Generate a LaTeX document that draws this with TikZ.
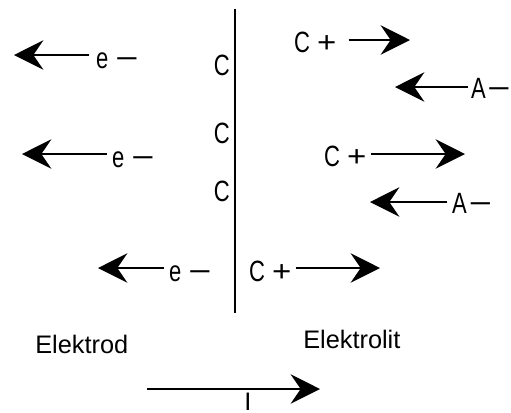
\documentclass[tikz,border=0pt]{standalone}
\usepackage{fontspec}
\usepackage{graphicx}
\setmainfont{Liberation Sans}
\usetikzlibrary{arrows.meta}
\newcommand{\wminus}{\scalebox{1.8}[1]{−}}
\newcommand{\wplus}{\scalebox{1.5}[1]{+}}
\begin{document}
\begin{tikzpicture}[x=0.75pt,y=-0.75pt,
  lbl/.style={inner sep=0pt, font=\fontsize{22}{26}\selectfont, xscale=0.75, anchor=base west},
  captiontext/.style={inner sep=0pt, font=\fontsize{19}{23}\selectfont, anchor=base west},
  arr/.style={line width=1.5pt, -{Stealth[length=22pt,width=22pt,inset=7.5pt]}},
  wall/.style={line width=1.5pt}
]
\useasboundingbox (0,0) rectangle (511,412);
% electrode surface
\coordinate (top) at (235,9);
\coordinate (bot) at (235,313);
\draw[wall] (top) -- (bot);
% charges on the surface
\node[lbl, anchor=base east] (k1) at (230,75) {C};
\node[lbl, anchor=base east] (k2) at (230,143) {C};
\node[lbl, anchor=base east] (k3) at (230,201) {C};
% electrons
\node[lbl] (e1) at (96,68) {e\kern7pt\wminus};
\coordinate (t1) at (14,55);
\draw[arr, shorten <=5pt] (e1.west |- t1) -- (t1);
\node[lbl] (e2) at (112,167) {e\kern7pt\wminus};
\coordinate (t2) at (22,154);
\draw[arr, shorten <=4pt] (e2.west |- t2) -- (t2);
\node[lbl] (e3) at (169,281) {e\kern7pt\wminus};
\coordinate (t3) at (98,268);
\draw[arr, shorten <=3.5pt] (e3.west |- t3) -- (t3);
% cations
\node[lbl] (c1) at (294,52) {C\kern7pt\wplus};
\coordinate (u1) at (410,40);
\draw[arr, shorten <=9pt] (c1.east |- u1) -- (u1);
\node[lbl] (c2) at (324,166) {C\kern7pt\wplus};
\coordinate (u2) at (465,154);
\draw[arr, shorten <=3.5pt] (c2.east |- u2) -- (u2);
\node[lbl] (c3) at (249,281) {C\kern7pt\wplus};
\coordinate (u3) at (380,268);
\draw[arr, shorten <=3pt] (c3.east |- u3) -- (u3);
% anions
\node[lbl] (a1) at (471,98) {A\kern1.5pt\wminus};
\coordinate (v1) at (395,87);
\draw[arr, shorten <=2pt] (a1.west |- v1) -- (v1);
\node[lbl] (a2) at (452,213) {A\kern2pt\wminus};
\coordinate (v2) at (370,202);
\draw[arr, shorten <=3.5pt] (a2.west |- v2) -- (v2);
% captions
\node[captiontext] (elk) at (35,353) {Elektrod};
\node[captiontext] (elt) at (303,348) {Elektrolit};
% current
\coordinate (i0) at (147,389);
\coordinate (i1) at (320,389);
\draw[arr] (i0) -- (i1);
\node[captiontext, anchor=base] (cur) at (248,410) {I};
\end{tikzpicture}
\end{document}
